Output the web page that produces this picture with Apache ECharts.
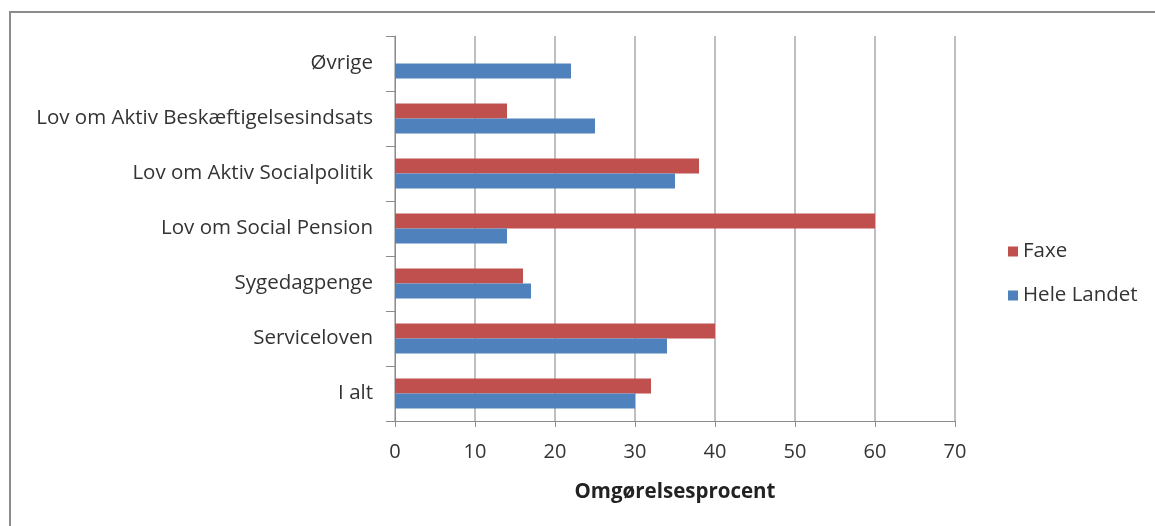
<!DOCTYPE html>
<html>
<head>
<meta charset="utf-8">
<script src="https://cdn.jsdelivr.net/npm/echarts@6/dist/echarts.min.js"></script>
<style>
  html, body { margin: 0; padding: 0; background: #fff; }
  .frame {
    position: absolute; left: 9px; top: 11px; right: -5px; bottom: -5px;
    border-top: 2px solid #8c8c8c; border-left: 2px solid #8c8c8c;
  }
  #chart { position: absolute; left: 0; top: 0; width: 1155px; height: 526px; }
</style>
</head>
<body>
<div class="frame"></div>
<div id="chart"></div>
<script>
// kategorier nedefra og op
const categories = ["I alt", "Serviceloven", "Sygedagpenge", "Lov om Social Pension",
  "Lov om Aktiv Socialpolitik", "Lov om Aktiv Beskæftigelsesindsats", "Øvrige"];
const faxe = [32, 40, 16, 60, 38, 14, null];
const heleLandet = [30, 34, 17, 14, 35, 25, 22];
const xTicks = { min: 0, max: 70, interval: 10 };

const font = "'Open Sans', 'Noto Sans', sans-serif";

let option = {
  animation: false,
  textStyle: { fontFamily: font },
  grid: { left: 395, right: 200, top: 36, bottom: 105 },
  legend: {
    orient: "vertical",
    left: 1003,
    top: 236,
    itemWidth: 10,
    itemHeight: 10,
    itemGap: 23,
    icon: "rect",
    data: ["Faxe", "Hele Landet"],
    textStyle: { fontSize: 20.5, color: "#333", fontFamily: font }
  },
  xAxis: {
    type: "value",
    min: xTicks.min,
    max: xTicks.max,
    interval: xTicks.interval,
    name: "Omgørelsesprocent",
    nameLocation: "middle",
    nameGap: 61,
    nameTextStyle: { fontSize: 20.5, fontWeight: "bold", color: "#222", fontFamily: font },
    axisLine: { show: true, lineStyle: { color: "#8c8c8c", width: 1 } },
    axisTick: { show: true, length: 6, lineStyle: { color: "#8c8c8c" } },
    axisLabel: { fontSize: 20, color: "#333", margin: 21 },
    splitLine: { show: true, lineStyle: { color: "#aaaaaa", width: 1.5 } }
  },
  yAxis: {
    type: "category",
    data: categories,
    axisLine: { show: true, lineStyle: { color: "#8c8c8c", width: 1 } },
    axisTick: { show: true, length: 9, lineStyle: { color: "#8c8c8c" } },
    axisLabel: { fontSize: 20.5, color: "#333", margin: 22, padding: [0, 0, 6, 0] }
  },
  series: [
    {
      name: "Faxe",
      type: "bar",
      data: faxe,
      itemStyle: { color: "#C0504D" },
      barWidth: 15,
      barGap: "0%"
    },
    {
      name: "Hele Landet",
      type: "bar",
      data: heleLandet,
      itemStyle: { color: "#4F81BD" },
      barWidth: 15,
      barGap: "0%"
    }
  ]
};

echarts.init(document.getElementById("chart")).setOption(option);
</script>
</body>
</html>
